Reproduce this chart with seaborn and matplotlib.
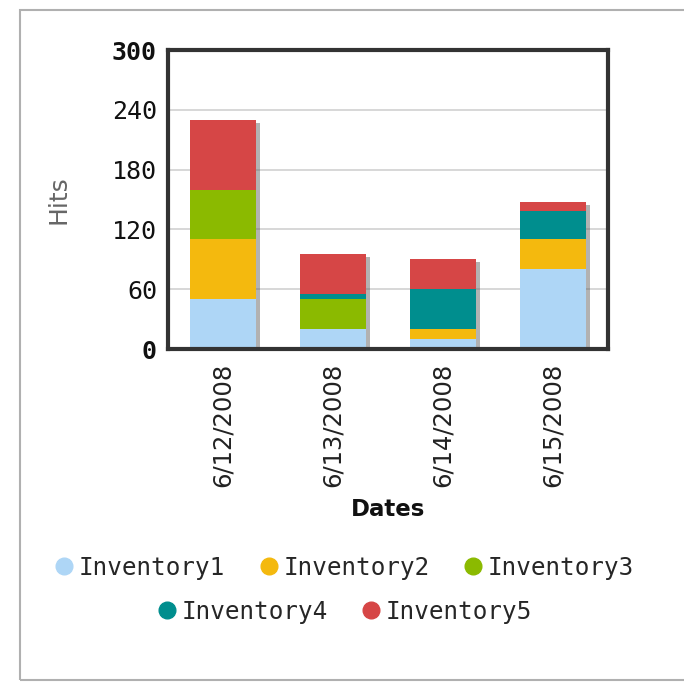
import numpy as np
import pandas as pd
import matplotlib
matplotlib.use("Agg")
import matplotlib.pyplot as plt
import matplotlib.patheffects as pe
from matplotlib.lines import Line2D
from matplotlib.patches import Rectangle
import seaborn as sns

# values
dates = ["6/12/2008", "6/13/2008", "6/14/2008", "6/15/2008"]
series = ["Inventory1", "Inventory2", "Inventory3", "Inventory4", "Inventory5"]
inventory1 = [50, 20, 10, 80]
inventory2 = [60, 0, 10, 30]
inventory3 = [50, 30, 0, 0]
inventory4 = [0, 5, 40, 28]
inventory5 = [70, 40, 30, 9]
colors = ["#aed6f6", "#f4b90e", "#8bba00", "#008e8e", "#d64646"]
y_ticks = [0, 60, 120, 180, 240, 300]

df = pd.DataFrame({
    "Dates": dates,
    "Inventory1": inventory1,
    "Inventory2": inventory2,
    "Inventory3": inventory3,
    "Inventory4": inventory4,
    "Inventory5": inventory5,
})
cum = df[series].cumsum(axis=1)
cum["Dates"] = df["Dates"]

sns.set_style("white")
plt.rcParams["font.family"] = ["DejaVu Sans"]

fig = plt.figure(figsize=(6.84, 6.83), dpi=100)
ax = fig.add_axes([168 / 684, 1 - 349 / 683, 440 / 684, 299 / 683])

# layered bars: draw cumulative totals from top down so each covers the next
for i in reversed(range(len(series))):
    kw = {}
    if i == len(series) - 1:
        kw["path_effects"] = [pe.SimplePatchShadow(offset=(3, -2), shadow_rgbFace="#555555", alpha=0.45),
                              pe.Normal()]
    sns.barplot(data=cum, x="Dates", y=series[i], order=dates, color=colors[i],
                saturation=1, width=0.6, errorbar=None, linewidth=0, ax=ax, **kw)

ax.set_ylim(0, 300)
ax.set_yticks(y_ticks)
ax.yaxis.grid(True, color="#d4d4d4", linewidth=1.3)
ax.set_axisbelow(True)
for s in ax.spines.values():
    s.set_linewidth(3)
    s.set_color("#333333")
    s.set_visible(True)

ax.tick_params(axis="both", length=0)
ax.tick_params(axis="y", pad=8)
ax.tick_params(axis="x", pad=10)
ylabels = ax.set_yticklabels([str(t) for t in y_ticks], family="DejaVu Sans Mono", fontsize=18, color="#111111")
ylabels[0].set_fontweight("bold")
ylabels[-1].set_fontweight("bold")
ax.set_xticks(range(len(dates)))
ax.set_xticklabels(dates, rotation=90, fontsize=17.5, color="#222222")

ax.set_ylabel("Hits", fontsize=18, color="#666666", labelpad=30)
ax.set_xlabel("Dates", fontsize=16.5, fontweight="bold", color="#111111", labelpad=8)

# legend in two centered rows
handles = [Line2D([], [], marker="o", linestyle="", markersize=12,
                  markerfacecolor=c, markeredgecolor=c) for c in colors]
prop = {"family": "DejaVu Sans Mono", "size": 17.5}
fig.legend(handles[:3], series[:3], loc="center", bbox_to_anchor=(0.5, 1 - 568 / 683), ncol=3,
           frameon=False, prop=prop, handletextpad=0.0, columnspacing=1.2, handlelength=1.2)
fig.legend(handles[3:], series[3:], loc="center", bbox_to_anchor=(0.5, 1 - 612 / 683), ncol=2,
           frameon=False, prop=prop, handletextpad=0.0, columnspacing=1.2, handlelength=1.2)

fig.patches.append(Rectangle((20 / 684, 1 - 680 / 683), 700 / 684, 670 / 683,
                             transform=fig.transFigure, fill=False, edgecolor="#b0b0b0", linewidth=1.5))

fig.savefig("out.png", dpi=100)
